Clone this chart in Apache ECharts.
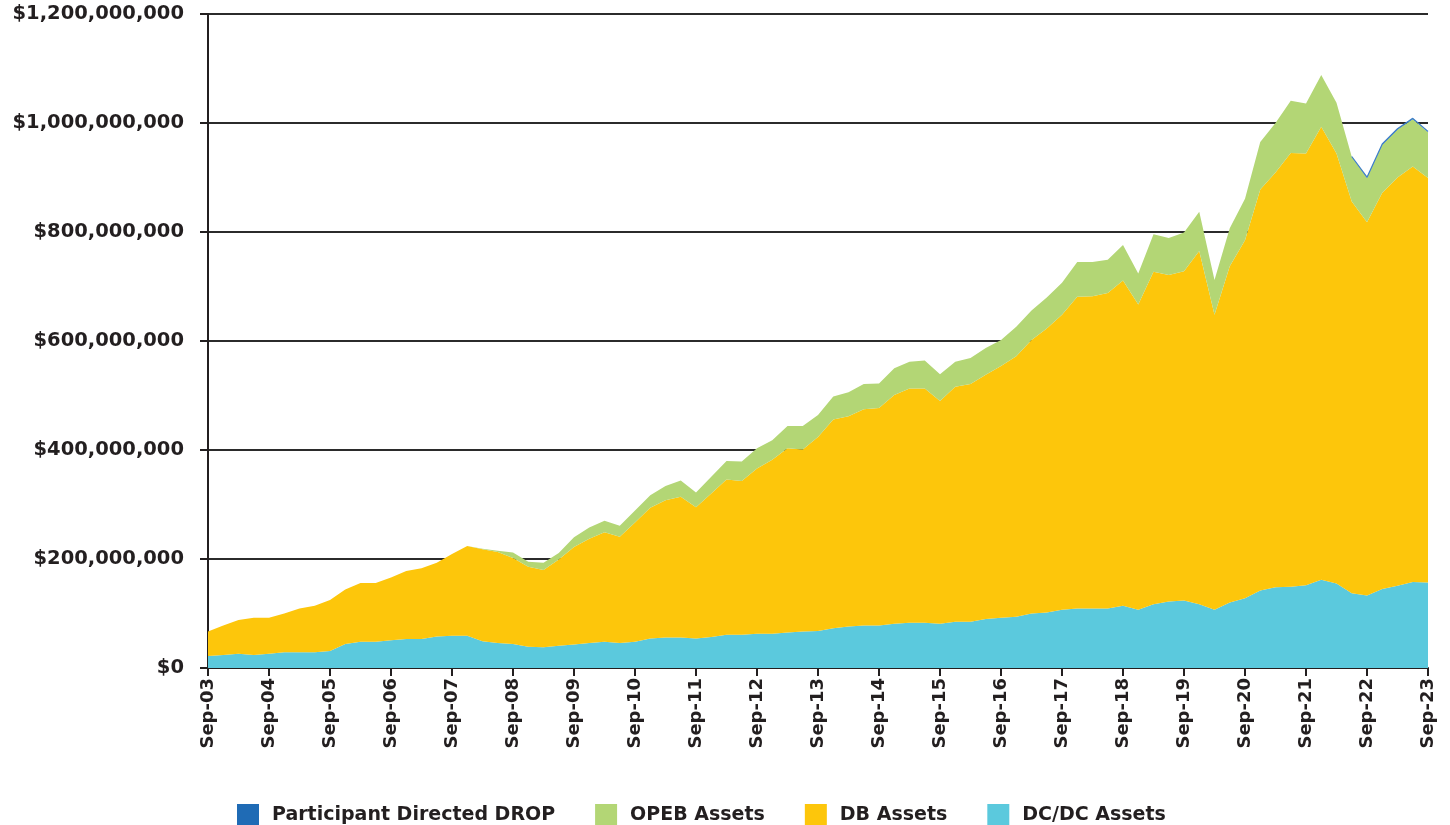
<!DOCTYPE html>
<html>
<head>
<meta charset="utf-8">
<script src="https://cdn.jsdelivr.net/npm/echarts@6/dist/echarts.min.js"></script>
<style>
html,body{margin:0;padding:0;background:#fff;}
#chart{width:1450px;height:825px;}
</style>
</head>
<body>
<div id="chart"></div>
<script>
// Quarterly categories Sep-03 .. Sep-23
const quarterMonths = ['Sep','Dec','Mar','Jun'];
const startYear = 2003;
const quarterCount = 81;
const categories = [];
for (let i = 0; i < quarterCount; i++) {
  const m = quarterMonths[i % 4];
  const yr = (i % 4 === 0 || i % 4 === 1) ? startYear + Math.floor(i / 4) : startYear + Math.floor(i / 4) + 1;
  categories.push(m + '-' + String(yr % 100).padStart(2, '0'));
}

// Values in millions of dollars
const dcAssets = [22,24,26,24,26,29,29,29,31,44,48,48,51,53,53,58,59,59,49,46,44,39,38,41,43,46,48,46,48,54,56,56,54,57,61,61,63,63,65,67,68,73,76,78,78,81,83,83,81,85,85,90,92,94,100,102,107,109,109,109,114,107,117,122,124,117,107,120,128,142,148,149,152,162,155,137,133,145,151,158,157];
const dbAssets = [45,54,62,68,66,71,80,85,94,100,108,108,115,125,130,135,150,165,169,167,158,147,142,158,179,191,201,195,219,240,252,258,241,263,285,282,303,319,338,334,356,383,386,397,399,420,430,430,409,431,436,448,462,478,502,521,541,572,573,579,597,560,610,599,604,648,541,617,657,736,761,796,792,831,789,719,685,727,749,762,742];
const opebAssets = [0,0,0,0,0,0,0,0,0,0,0,0,0,0,0,0,0,0,1,2,10,9,13,12,18,21,21,20,22,23,26,30,27,31,34,36,37,36,41,43,40,42,44,46,45,49,49,51,49,46,48,49,48,54,54,57,59,64,63,61,65,57,69,68,71,72,64,70,76,87,91,96,92,95,93,82,81,88,88,87,84];
const dropAssets = ['-','-','-','-','-','-','-','-','-','-','-','-','-','-','-','-','-','-','-','-','-','-','-','-','-','-','-','-','-','-','-','-','-','-','-','-','-','-','-','-','-','-','-','-','-','-','-','-','-','-','-','-','-','-','-','-','-','-','-','-','-','-','-','-','-','-','-','-','-','-','-','-','-','-','-',0.5,1.5,1.5,1.5,1.5,1.5];
const yTicks = [0,200,400,600,800,1000,1200];

const fontFam = 'DejaVu Sans';
const chart = echarts.init(document.getElementById('chart'));
function areaSeries(name, data, color, lineW, lineColor) {
  return {
    name: name, type: 'line', stack: 'total', data: data,
    showSymbol: false, symbol: 'none',
    lineStyle: { width: lineW, color: lineColor || color },
    itemStyle: { color: color },
    areaStyle: { color: color, opacity: 1 },
    emphasis: { disabled: true },
    animation: false
  };
}
chart.setOption({
  animation: false,
  grid: { left: 208, right: 22, top: 14, bottom: 157, containLabel: false },
  legend: {
    data: ['Participant Directed DROP', 'OPEB Assets', 'DB Assets', 'DC/DC Assets'],
    left: 232, top: 799,
    itemWidth: 22, itemHeight: 22, itemGap: 40,
    icon: 'rect',
    textStyle: { fontFamily: fontFam, fontWeight: 'bold', fontSize: 19, color: '#231f20', padding: [0, 0, 0, 8] }
  },
  xAxis: {
    type: 'category', data: categories, boundaryGap: false,
    axisLine: { lineStyle: { color: '#231f20', width: 2 } },
    axisTick: { show: true, interval: 3, length: 8, lineStyle: { color: '#231f20', width: 2 } },
    axisLabel: { interval: 3, rotate: 90, margin: 10, fontFamily: fontFam, fontWeight: 'bold', fontSize: 18, color: '#231f20' },
    splitLine: { show: false }
  },
  yAxis: {
    type: 'value', min: yTicks[0], max: yTicks[yTicks.length - 1], interval: 200,
    axisLine: { show: true, lineStyle: { color: '#231f20', width: 2 } },
    axisTick: { show: true, length: 8, lineStyle: { color: '#231f20', width: 2 } },
    axisLabel: {
      margin: 24, fontFamily: fontFam, fontWeight: 'bold', fontSize: 19.5, color: '#231f20',
      formatter: function (v) { return '$' + (v * 1e6).toLocaleString('en-US'); }
    },
    splitLine: { show: true, lineStyle: { color: '#2b2b2b', width: 2 } }
  },
  series: [
    areaSeries('DC/DC Assets', dcAssets, '#5bc9dd', 0),
    areaSeries('DB Assets', dbAssets, '#fdc60b', 0),
    areaSeries('OPEB Assets', opebAssets, '#b3d675', 0),
    areaSeries('Participant Directed DROP', dropAssets, '#1f6bb5', 1.2, '#3f7fc8')
  ]
});
</script>
</body>
</html>
